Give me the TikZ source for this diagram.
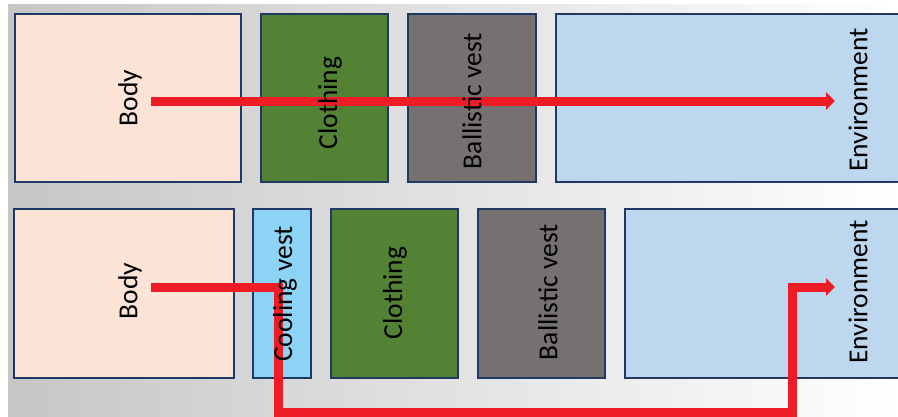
\documentclass[tikz,border=0pt]{standalone}
\usepackage{fontspec}
\setmainfont{Carlito}
\usetikzlibrary{arrows.meta}
\definecolor{bodyc}{HTML}{FBE3D6}
\definecolor{clothc}{HTML}{548235}
\definecolor{ballc}{HTML}{767171}
\definecolor{envc}{HTML}{BDD7EE}
\definecolor{coolc}{HTML}{8DD3F5}
\definecolor{edgec}{HTML}{1F3864}
\definecolor{flowc}{HTML}{EE1C25}
\tikzset{
  layer/.style={draw=edgec, line width=1.9pt, rectangle, inner sep=0pt},
  lbl/.style={rotate=90, font=\fontsize{27.5}{30}\selectfont, text=black, inner sep=0pt},
  flow/.style={draw=flowc, line width=9pt, -{Triangle[width=17pt,length=9pt]}}
}
\newcommand{\boxat}[6]{% name, x1, y1, x2, y2, colour
  \node[layer, fill=#6, minimum width={#4-#2}, minimum height={#5-#3}, anchor=north west] (#1) at (#2,#3) {};}
\begin{document}
\begin{tikzpicture}[x=1pt,y=-1pt]
\useasboundingbox (0,0) rectangle (898,416);
\clip (0,0) rectangle (898,416);
\shade[left color={rgb,255:red,198;green,198;blue,198}, right color=white] (8,4) rectangle (898,416);
% top row
\boxat{b1}{14}{13}{240}{181}{bodyc}
\boxat{c1}{260}{13}{387}{181}{clothc}
\boxat{v1}{407}{13}{535}{181}{ballc}
\boxat{e1}{555}{13}{910}{181}{envc}
% bottom row
\boxat{b2}{13}{208}{233}{377}{bodyc}
\boxat{k2}{252}{208}{310}{377}{coolc}
\boxat{c2}{330}{208}{457}{377}{clothc}
\boxat{v2}{477}{208}{604}{377}{ballc}
\boxat{e2}{624}{208}{910}{377}{envc}
% flows
\coordinate (s1) at (151,101);
\coordinate (t1) at (835,101);
\draw[flow] (s1) -- (t1);
\coordinate (s2) at (151,287);
\coordinate (t2) at (835,287);
\draw[flow] (s2) -- (278,287) -- (278,412) -- (792,412) -- (792,287) -- (t2);
% labels
\node[lbl] (lb1) at (130,98) {Body};
\node[lbl] (lc1) at (330,103) {Clothing};
\node[lbl] (lv1) at (472,101) {Ballistic vest};
\node[lbl] (le1) at (858,100) {Environment};
\node[lbl] (lb2) at (130,291) {Body};
\node[lbl] (lk2) at (285,294) {Cooling vest};
\node[lbl] (lc2) at (395,293) {Clothing};
\node[lbl] (lv2) at (548,292) {Ballistic vest};
\node[lbl] (le2) at (858,292) {Environment};
\end{tikzpicture}
\end{document}
